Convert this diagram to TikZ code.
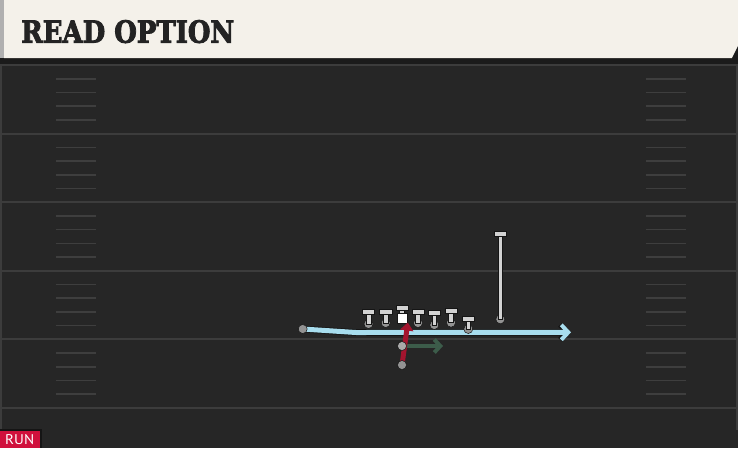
\documentclass[tikz,border=0pt]{standalone}
\usepackage{fontspec}
\usepackage{graphicx}
\usetikzlibrary{arrows.meta}
\newfontfamily\titlefont[BoldFeatures={FakeBold=3}]{DejaVu Serif}
\newfontfamily\runfont{PT Sans}
\definecolor{fieldbg}{HTML}{262626}
\definecolor{fieldline}{HTML}{3C3C3C}
\definecolor{hashc}{HTML}{3E3E3E}
\definecolor{headbg}{HTML}{F4F1EA}
\definecolor{headgray}{HTML}{B0B0B0}
\definecolor{strip}{HTML}{1B1B1B}
\definecolor{tcol}{HTML}{D2D2D2}
\definecolor{dotcol}{HTML}{939393}
\definecolor{outl}{HTML}{151515}
\definecolor{bluer}{HTML}{A8DDEE}
\definecolor{redr}{HTML}{A3142E}
\definecolor{greenr}{HTML}{3C5C4A}
\definecolor{runred}{HTML}{D0103C}
\definecolor{titlec}{HTML}{232323}
\tikzset{
  yard/.style={draw=fieldline, line width=2pt},
  hashmark/.style={draw=hashc, line width=1.6pt},
  pdot/.style={circle, fill=dotcol, draw=outl, line width=0.5pt, minimum size=9pt, inner sep=0pt},
  tbody/.style={fill=tcol, draw=outl, line width=0.5pt},
  bluepath/.style={draw=bluer, line width=5pt, -{Straight Barb[length=7pt, width=15pt, line width=4pt]}},
  bluehalo/.style={draw=outl, line width=6.6pt, -{Straight Barb[length=7pt, width=15pt, line width=5.6pt]}},
  redpath/.style={draw=redr, line width=5pt, -{Triangle[length=8pt, width=13pt]}},
  greenpath/.style={draw=greenr, line width=4.6pt, -{Straight Barb[length=6pt, width=13pt, line width=4pt]}},
}
\begin{document}
\begin{tikzpicture}[x=1pt, y=-1pt]
\useasboundingbox (0,0) rectangle (738,448);
% background
\fill[fieldbg] (0,58) rectangle (738,448);
\fill[strip] (0,58) rectangle (738,64);
% header
\fill[headbg] (4,0) -- (738,0) -- (738,46) -- (732,58) -- (4,58) -- cycle;
\fill[headgray] (0,0) rectangle (4,58);
\fill[strip] (738,46) -- (738,58) -- (732,58) -- cycle;
\node[anchor=south west, inner sep=0pt, text=titlec] (title) at (21,43.3)
  {\resizebox{213pt}{22.6pt}{\titlefont\bfseries READ OPTION}};
% side borders
\draw[fieldline, line width=2pt] (1,64) -- (1,430);
\draw[fieldline, line width=2pt] (737,64) -- (737,430);
% yard lines and hash marks
\foreach \i in {0,...,5}{
  \draw[yard] (0,65+68.6*\i) -- (738,65+68.6*\i);
}
\foreach \i in {0,...,4}{
  \foreach \k in {1,2,3,4}{
    \draw[hashmark] (56,65+68.6*\i+13.72*\k) -- (96,65+68.6*\i+13.72*\k);
    \draw[hashmark] (646,65+68.6*\i+13.72*\k) -- (686,65+68.6*\i+13.72*\k);
  }
}
% run label
\fill[outl] (0,429) rectangle (42,448);
\fill[runred] (0,431) rectangle (40,448);
\node[anchor=south west, inner sep=0pt, text=white] (runlabel) at (5,445)
  {\resizebox{29pt}{10pt}{\runfont RUN}};
% backfield dots
\node[pdot] (wr) at (302.7,329) {};
\node[pdot] (qb) at (402,346) {};
\node[pdot] (rb) at (402,365) {};
\coordinate (bend) at (356,332.5);
\coordinate (blueend) at (571,332.3);
\coordinate (redend) at (407.8,322.5);
\coordinate (greenend) at (443,346);
% blue route
\draw[bluehalo] (wr.center) -- (bend) -- (blueend);
\draw[bluepath] (wr.center) -- (bend) -- (blueend);
\node[pdot] at (wr) {};
% players (T)
\foreach \n/\x/\b/\d in {t1/368.5/309.3/324, t2/385.7/309.3/323, t4/418/309.3/323, t5/434.3/309.8/325, t6/451/308.3/322.7, t7/468.3/316.7/329, tall/500.3/231/319.3}{
  \node[pdot] (\n) at (\x,\d) {};
  \filldraw[tbody] (\x-2.3,\b+3) rectangle (\x+2.3,\d);
  \filldraw[tbody] (\x-6.2,\b) rectangle (\x+6.2,\b+5);
}
% center
\filldraw[tbody] (399.7,308.5) rectangle (404.3,314);
\filldraw[tbody] (395.8,305.2) rectangle (408.2,310.2);
\node[fill=white, draw=outl, line width=0.5pt, minimum size=9.5pt, inner sep=0pt] (ctr) at (402,318.3) {};
% green and red routes
\draw[greenpath] (qb.center) -- (greenend);
\draw[redpath] (rb.center) -- (redend);
\node[pdot, fill=dotcol!80!white] at (qb) {};
\node[pdot] at (rb) {};
\end{tikzpicture}
\end{document}
